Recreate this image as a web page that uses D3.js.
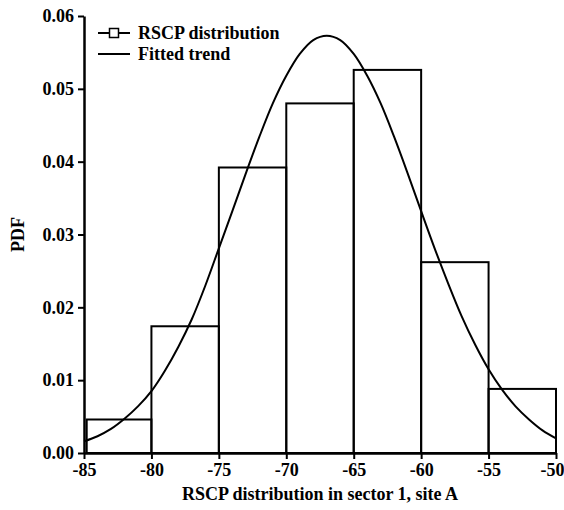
<!DOCTYPE html>
<html>
<head>
<meta charset="utf-8">
<script src="https://cdn.jsdelivr.net/npm/d3@7"></script>
<style>
  body { margin: 0; background: #fff; }
  text { font-family: "Liberation Serif", "Times New Roman", serif; font-weight: bold; }
</style>
</head>
<body>
<svg id="chart" width="564" height="510"></svg>
<script>
// histogram bins (edges) and PDF heights
const binEdges = [-84.8, -80, -75, -70, -65, -60, -55, -50];
const pdfValues = [0.0046, 0.0174, 0.0392, 0.0480, 0.0526, 0.0262, 0.0088];

// fitted trend
const trendX = [-85, -84, -83, -82, -81, -80, -79, -78, -77, -76, -75, -74, -73, -72, -71, -70, -69, -68, -67,
                -66, -65, -64, -63, -62, -61, -60, -59, -58, -57, -56, -55, -54, -53, -52, -51, -50];
const trendY = [0.0016, 0.0023, 0.0033, 0.0047, 0.0064, 0.0085, 0.0113, 0.0146, 0.0184, 0.0230, 0.0281, 0.0332,
                0.0384, 0.0434, 0.0480, 0.0518, 0.0548, 0.0567, 0.0573,
                0.0567, 0.0548, 0.0518, 0.0480, 0.0434, 0.0384, 0.0332, 0.0281, 0.0233, 0.0188, 0.0149,
                0.0115, 0.0087, 0.0064, 0.0046, 0.0031, 0.0020];

const xTicks = [-85, -80, -75, -70, -65, -60, -55, -50];
const yTicks = [0, 0.01, 0.02, 0.03, 0.04, 0.05, 0.06];

const width = 564, height = 510;
const margin = { top: 16, right: 8, bottom: 57, left: 84 };

const svg = d3.select("#chart");

const x = d3.scaleLinear()
    .domain([-85, -50])
    .range([margin.left, width - margin.right]);

const y = d3.scaleLinear()
    .domain([0, 0.06])
    .range([height - margin.bottom, margin.top]);

// bars
const bins = pdfValues.map((v, i) => ({ x0: binEdges[i], x1: binEdges[i + 1], v: v }));

svg.append("g")
    .selectAll("rect")
    .data(bins)
    .enter()
    .append("rect")
    .attr("x", d => x(d.x0))
    .attr("y", d => y(d.v))
    .attr("width", d => x(d.x1) - x(d.x0))
    .attr("height", d => y(0) - y(d.v))
    .attr("fill", "none")
    .attr("stroke", "#000")
    .attr("stroke-width", 2);

// trend curve
const line = d3.line()
    .x(d => x(d[0]))
    .y(d => y(d[1]))
    .curve(d3.curveCatmullRom);

svg.append("path")
    .datum(trendX.map((v, i) => [v, trendY[i]]))
    .attr("d", line)
    .attr("fill", "none")
    .attr("stroke", "#000")
    .attr("stroke-width", 2);

// axes
function styleAxis(g) {
    g.select(".domain").attr("stroke-width", 2.5);
    g.selectAll(".tick line").attr("stroke-width", 2);
    g.selectAll("text").attr("font-size", 18).attr("fill", "#000")
        .attr("font-family", "Liberation Serif").attr("font-weight", "bold");
}

// plain hyphen for negatives, like the original
const xAxis = svg.append("g")
    .attr("transform", `translate(0,${height - margin.bottom})`)
    .call(d3.axisBottom(x).tickValues(xTicks).tickSize(6).tickSizeOuter(0).tickPadding(4).tickFormat(d => String(d)))
    .call(styleAxis);

// keep the last label inside the frame
xAxis.selectAll(".tick text").filter(d => d === -50).attr("dx", -4);

svg.append("g")
    .attr("transform", `translate(${margin.left},0)`)
    .call(d3.axisLeft(y).tickValues(yTicks).tickSize(6).tickSizeOuter(0).tickPadding(4).tickFormat(d3.format(".2f")))
    .call(styleAxis);

// axis titles
svg.append("text")
    .attr("x", (margin.left + width - margin.right) / 2)
    .attr("y", 500)
    .attr("text-anchor", "middle")
    .attr("font-size", 18)
    .text("RSCP distribution in sector 1, site A");

svg.append("text")
    .attr("transform", `translate(24,${(margin.top + height - margin.bottom) / 2}) rotate(-90)`)
    .attr("text-anchor", "middle")
    .attr("font-size", 18)
    .text("PDF");

// legend
const legend = svg.append("g").attr("transform", "translate(98,33)");

legend.append("line").attr("x1", 0).attr("x2", 32).attr("y1", 0).attr("y2", 0)
    .attr("stroke", "#000").attr("stroke-width", 2);
legend.append("rect").attr("x", 11.5).attr("y", -4.5).attr("width", 9).attr("height", 9)
    .attr("fill", "#fff").attr("stroke", "#000").attr("stroke-width", 1.5);
legend.append("text").attr("x", 40).attr("y", 6).attr("font-size", 18).text("RSCP distribution");

legend.append("line").attr("x1", 0).attr("x2", 32).attr("y1", 21).attr("y2", 21)
    .attr("stroke", "#000").attr("stroke-width", 2);
legend.append("text").attr("x", 40).attr("y", 27).attr("font-size", 18).text("Fitted trend");
</script>
</body>
</html>
